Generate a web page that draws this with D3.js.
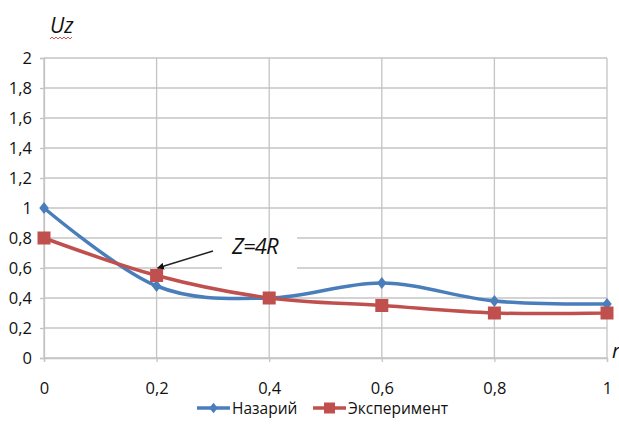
<!DOCTYPE html>
<html>
<head>
<meta charset="utf-8">
<script src="https://cdn.jsdelivr.net/npm/d3@7"></script>
<style>
  html, body { margin: 0; padding: 0; background: #fff; }
  svg { display: block; }
</style>
</head>
<body>
<svg id="chart" width="619" height="428"></svg>
<script>
// ---- data ----
const xValues = [0, 0.2, 0.4, 0.6, 0.8, 1];
const theory = [1.0, 0.48, 0.40, 0.50, 0.38, 0.36];       // Назарий
const experiment = [0.80, 0.55, 0.40, 0.35, 0.30, 0.30];  // Эксперимент
const seriesNames = ["Назарий", "Эксперимент"];
const xTicks = [0, 0.2, 0.4, 0.6, 0.8, 1];
const yTicks = [0, 0.2, 0.4, 0.6, 0.8, 1, 1.2, 1.4, 1.6, 1.8, 2];
const yAxisTitle = "Uz";
const xAxisTitle = "r";
const annotationText = "Z=4R";

(function () {
// ---- layout ----
const svg = d3.select("#chart");
const pLeft = 44, pRight = 607, pTop = 58, pBottom = 358;
const x = d3.scaleLinear().domain([0, 1]).range([pLeft, pRight]);
const y = d3.scaleLinear().domain([0, 2]).range([pBottom, pTop]);
const fmt = d3.formatLocale({decimal: ",", thousands: " ", grouping: [3], currency: ["", ""]}).format("~g");
const font = "'Open Sans', 'Liberation Sans', sans-serif";
const gridColor = "#c4c4c4";
const blue = "#4a7ebb";
const red = "#c0504d";

// horizontal gridlines
svg.append("g").selectAll("line").data(yTicks).join("line")
  .attr("x1", pLeft).attr("x2", pRight)
  .attr("y1", d => y(d)).attr("y2", d => y(d))
  .attr("stroke", gridColor).attr("stroke-width", 1.3);

// white box behind annotation (hides horizontal gridlines)
svg.append("rect")
  .attr("x", 222).attr("y", 226).attr("width", 75).attr("height", 46)
  .attr("fill", "#fff");

// vertical gridlines
svg.append("g").selectAll("line").data(xTicks).join("line")
  .attr("x1", d => x(d)).attr("x2", d => x(d))
  .attr("y1", pTop).attr("y2", pBottom)
  .attr("stroke", gridColor).attr("stroke-width", 1.3);

// axes (ticks + labels)
const yAxis = d3.axisLeft(y).tickValues(yTicks).tickFormat(fmt).tickSize(4).tickPadding(8);
const gy = svg.append("g").attr("transform", `translate(${pLeft},0)`).call(yAxis);
const xAxis = d3.axisBottom(x).tickValues(xTicks).tickFormat(fmt).tickSize(4).tickPadding(20);
const gx = svg.append("g").attr("transform", `translate(0,${pBottom})`).call(xAxis);
[gx, gy].forEach(g => {
  g.select(".domain").attr("stroke", gridColor).attr("stroke-width", 1.3);
  g.selectAll(".tick line").attr("stroke", gridColor).attr("stroke-width", 1.3);
  g.selectAll("text").attr("fill", "#111").style("font-family", font).style("font-size", "16.5px");
});

// lines
const line = d3.line().x((d, i) => x(xValues[i])).y(d => y(d)).curve(d3.curveCardinal.tension(0));

svg.append("path").datum(theory)
  .attr("d", line).attr("fill", "none").attr("stroke", blue).attr("stroke-width", 3.5);
svg.append("g").selectAll("path").data(theory).join("path")
  .attr("d", d3.symbol(d3.symbolDiamond2, 90)())
  .attr("transform", (d, i) => `translate(${x(xValues[i])},${y(d)}) scale(0.8,1)`)
  .attr("fill", blue);

svg.append("path").datum(experiment)
  .attr("d", line).attr("fill", "none").attr("stroke", red).attr("stroke-width", 3.5);
svg.append("g").selectAll("rect").data(experiment).join("rect")
  .attr("x", (d, i) => x(xValues[i]) - 6.5).attr("y", d => y(d) - 6.5)
  .attr("width", 13).attr("height", 13)
  .attr("fill", red);

// annotation
svg.append("defs").append("marker")
  .attr("id", "arrowhead").attr("viewBox", "0 0 10 10")
  .attr("refX", 9).attr("refY", 5)
  .attr("markerWidth", 7).attr("markerHeight", 7)
  .attr("markerUnits", "userSpaceOnUse")
  .attr("orient", "auto")
  .append("path").attr("d", "M0,0 L10,5 L0,10 z").attr("fill", "#111");
svg.append("line")
  .attr("x1", 213).attr("y1", 251).attr("x2", x(0.2) + 1).attr("y2", 268)
  .attr("stroke", "#222").attr("stroke-width", 1.5)
  .attr("marker-end", "url(#arrowhead)");
svg.append("text")
  .attr("x", 232).attr("y", 254)
  .style("font-family", font).style("font-size", "22px").style("font-style", "italic")
  .attr("fill", "#111").attr("letter-spacing", "-0.8")
  .text(annotationText);

// axis titles
svg.append("text").attr("x", 50).attr("y", 33)
  .style("font-family", font).style("font-size", "21px").style("font-style", "italic")
  .attr("fill", "#111").text(yAxisTitle);
// red squiggle under Uz
const sq = d3.range(0, 24, 2).map((v, i) => [50 + v, i % 2 ? 37 : 39]);
svg.append("path").attr("d", d3.line()(sq)).attr("fill", "none")
  .attr("stroke", "#e05050").attr("stroke-width", 1);

svg.append("text").attr("x", 612).attr("y", 358)
  .style("font-family", font).style("font-size", "20px").style("font-style", "italic")
  .attr("fill", "#111").text(xAxisTitle);

// legend
const legend = [
  {name: seriesNames[0], color: blue, type: "diamond", x0: 197},
  {name: seriesNames[1], color: red, type: "square", x0: 313}
];
const ly = 408;
legend.forEach(l => {
  const g = svg.append("g");
  g.append("line").attr("x1", l.x0).attr("x2", l.x0 + 33).attr("y1", ly).attr("y2", ly)
    .attr("stroke", l.color).attr("stroke-width", 3.5);
  if (l.type === "diamond") {
    g.append("path").attr("d", d3.symbol(d3.symbolDiamond2, 70)())
      .attr("transform", `translate(${l.x0 + 16.5},${ly}) scale(0.8,1)`).attr("fill", l.color);
  } else {
    g.append("rect").attr("x", l.x0 + 16.5 - 5.5).attr("y", ly - 5.5)
      .attr("width", 11).attr("height", 11).attr("fill", l.color);
  }
  g.append("text").attr("x", l.x0 + 35).attr("y", ly + 5.5)
    .style("font-family", font).style("font-size", "15.5px")
    .attr("fill", "#111").text(l.name);
});
})();
</script>
</body>
</html>
